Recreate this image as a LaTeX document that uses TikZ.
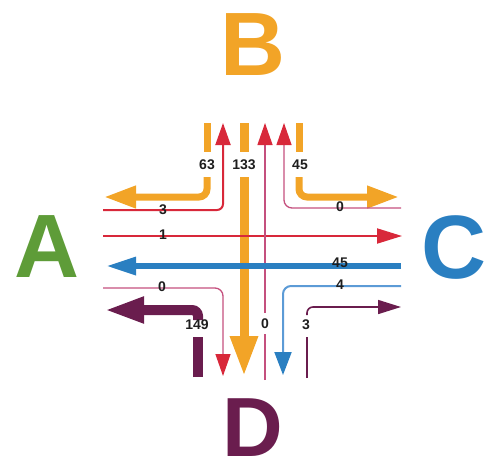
\documentclass[tikz,border=0pt]{standalone}
\usepackage{fontspec}
\setmainfont{Liberation Sans}
\usetikzlibrary{arrows.meta}

\definecolor{flowOrange}{HTML}{F2A427}
\definecolor{flowRed}{HTML}{D8283A}
\definecolor{flowPink}{HTML}{C4507E}
\definecolor{flowBlue}{HTML}{2A7FC1}
\definecolor{flowLightBlue}{HTML}{5C9BD6}
\definecolor{flowPurple}{HTML}{6A1D4E}
\definecolor{flowGreen}{HTML}{5E9C38}
\definecolor{labelInk}{HTML}{1E1E1E}

\tikzset{
  headOrangeSide/.tip={Triangle[length=32pt,width=21pt,color=flowOrange]},
  headOrangeMain/.tip={Triangle[length=40pt,width=26pt,color=flowOrange]},
  headRed/.tip={Triangle[length=22pt,width=15pt,color=flowRed]},
  headRedWide/.tip={Triangle[length=25pt,width=15pt,color=flowRed]},
  headBlue/.tip={Triangle[length=30pt,width=17pt,color=flowBlue]},
  headBlueThin/.tip={Triangle[length=23pt,width=17pt,color=flowBlue]},
  headPurple/.tip={Triangle[length=40pt,width=24pt,color=flowPurple]},
  headPurpleThin/.tip={Triangle[length=23pt,width=14pt,color=flowPurple]},
}

\begin{document}
\begin{tikzpicture}[x=1pt,y=-1pt,
  zone/.style={font=\fontsize{90}{90}\selectfont\bfseries, inner sep=0pt},
  count/.style={font=\fontsize{14}{14}\selectfont\bfseries, text=labelInk, inner sep=0.5pt},
  orangeBar/.style={draw=flowOrange, line width=7pt},
  orangeMain/.style={draw=flowOrange, line width=9pt},
  redLine/.style={draw=flowRed, line width=2pt},
  pinkLine/.style={draw=flowPink, line width=1.3pt},
  blueThick/.style={draw=flowBlue, line width=6pt},
  blueThin/.style={draw=flowLightBlue, line width=2pt},
  purpleThick/.style={draw=flowPurple, line width=10pt},
  purpleThin/.style={draw=flowPurple, line width=1.6pt},
  softCorner/.style={rounded corners=8pt},
]
\useasboundingbox (0,0) rectangle (486,469);

% approach names
\node[zone, text=flowOrange] (zoneB) at (253,45) {B};
\node[zone, text=flowGreen]  (zoneA) at (47,247) {A};
\node[zone, text=flowBlue]   (zoneC) at (454,248) {C};
\node[zone, text=flowPurple, font=\fontsize{84}{84}\selectfont\bfseries] (zoneD) at (253,428) {D};

% ---- end points and bends ----
\coordinate (b63top) at (207,123);
\coordinate (b63low) at (207,152);
\coordinate (b63up)  at (207,177);
\coordinate (aOrangeTip) at (104,197);

\coordinate (b133top) at (244,123);
\coordinate (b133low) at (244,152);
\coordinate (b133up)  at (244,177);
\coordinate (dOrangeTip) at (244,376);

\coordinate (b45top) at (299,123);
\coordinate (b45low) at (299,152);
\coordinate (b45up)  at (299,177);
\coordinate (cOrangeTip) at (399,197);

\coordinate (aRedStart) at (103,210);
\coordinate (bRedTipL) at (223,123);
\coordinate (aRedThrough) at (103,236);
\coordinate (cRedTip) at (402,236);

\coordinate (dPinkLow) at (265,380);
\coordinate (dPinkMid) at (265,334);
\coordinate (dPinkUp) at (265,313);
\coordinate (bRedTipM) at (265,123);

\coordinate (cPinkStart) at (401,208);
\coordinate (bRedTipR) at (284,123);

\coordinate (aPinkStart) at (103,288);
\coordinate (dRedTipL) at (223,376);

\coordinate (cBlueStart) at (401,266);
\coordinate (aBlueTip) at (106,266);
\coordinate (cBlueThinStart) at (401,286);
\coordinate (dBlueTip) at (283,375);

\coordinate (dPurpleLow) at (198,377);
\coordinate (dPurpleMid) at (198,337);
\coordinate (dPurpleUp) at (198,320);
\coordinate (aPurpleTip) at (104,310);

\coordinate (dPurpleThinLow) at (307,378);
\coordinate (dPurpleThinMid) at (307,337);
\coordinate (dPurpleThinUp) at (307,315);
\coordinate (cPurpleTip) at (401,307);

% ---- movements ----
% from B
\draw[orangeBar] (b63top) -- (b63low);
\draw[orangeBar, softCorner, -headOrangeSide] (b63up) |- (aOrangeTip);
\draw[orangeMain] (b133top) -- (b133low);
\draw[orangeMain, -headOrangeMain] (b133up) -- (dOrangeTip);
\draw[orangeBar] (b45top) -- (b45low);
\draw[orangeBar, softCorner, -headOrangeSide] (b45up) |- (cOrangeTip);

% from A
\draw[redLine, rounded corners=6pt, -headRed] (aRedStart) -| (bRedTipL);
\draw[redLine, -headRedWide] (aRedThrough) -- (cRedTip);
\draw[pinkLine, softCorner, -headRed] (aPinkStart) -| (dRedTipL);

% from D
\draw[pinkLine] (dPinkLow) -- (dPinkMid);
\draw[pinkLine, -headRed] (dPinkUp) -- (bRedTipM);
\draw[purpleThick] (dPurpleLow) -- (dPurpleMid);
\draw[purpleThick, rounded corners=6pt, -headPurple] (dPurpleUp) |- (aPurpleTip);
\draw[purpleThin] (dPurpleThinLow) -- (dPurpleThinMid);
\draw[purpleThin, rounded corners=6pt, -headPurpleThin] (dPurpleThinUp) |- (cPurpleTip);

% from C
\draw[pinkLine, softCorner, -headRed] (cPinkStart) -| (bRedTipR);
\draw[blueThick, -headBlue] (cBlueStart) -- (aBlueTip);
\draw[blueThin, softCorner, -headBlueThin] (cBlueThinStart) -| (dBlueTip);

% ---- counts ----
\node[count] (n63)  at (207,165) {63};
\node[count] (n133) at (244,165) {133};
\node[count] (n45)  at (300,165) {45};
\node[count] (nA3)  at (163,210) {3};
\node[count] (nA1)  at (163,235) {1};
\node[count] (nA0)  at (162,287) {0};
\node[count] (nC0)  at (340,207) {0};
\node[count] (nC45) at (340,263) {45};
\node[count] (nC4)  at (340,285) {4};
\node[count] (nD149) at (197,325) {149};
\node[count] (nD0)  at (265,324) {0};
\node[count] (nD3)  at (306,325) {3};
\end{tikzpicture}
\end{document}
